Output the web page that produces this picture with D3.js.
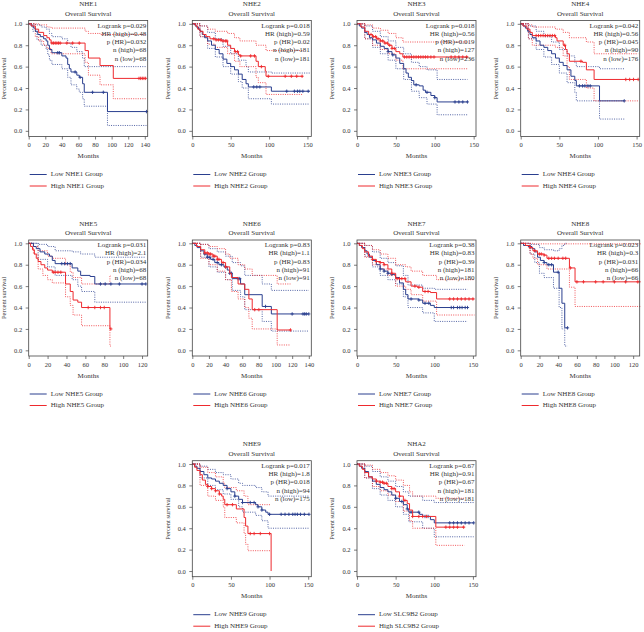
<!DOCTYPE html>
<html><head><meta charset="utf-8">
<script src="https://cdn.jsdelivr.net/npm/d3@7"></script>
<style>
body{margin:0;background:#fff}
svg{display:block}
text{font-family:"Liberation Serif","DejaVu Serif",serif;fill:#333}
</style>
</head><body>
<svg id="c" width="644" height="632"></svg>
<script>
const genes=["NHE1","NHE2","NHE3","NHE4","NHE5","NHE6","NHE7","NHE8","NHE9","NHA2"];
const legendNames=["NHE1","NHE2","NHE3","NHE4","NHE5","NHE6","NHE7","NHE8","NHE9","SLC9B2"];
const logrankP=["0.029","0.018","0.018","0.042","0.031","0.83","0.38","0.023","0.017","0.67"];
const hrHigh=["0.48","0.59","0.56","0.56","2.1","1.1","0.83","0.3","1.8","0.91"];
const pHR=["0.032","0.02","0.019","0.045","0.034","0.83","0.39","0.031","0.018","0.67"];
const nHigh=["68","181","127","90","68","91","181","66","94","181"];
const nLow=["68","181","236","176","68","91","180","66","175","181"];
const xTicks=[[0,20,40,60,80,100,120,140],[0,50,100,150],[0,50,100,150],[0,50,100,150],
  [0,20,40,60,80,100,120],[0,20,40,60,80,100,120,140],[0,50,100,150],[0,20,40,60,80,100,120],
  [0,50,100,150],[0,50,100,150]];
const xMax=[143.5,155,153,154,126,143,154,127,154,154];
const yTicks=[0,0.2,0.4,0.6,0.8,1.0];

// Kaplan-Meier step curves [month, survival]
const lowSurv=[
 [[0,1],[3,0.98],[6,0.96],[8,0.93],[11,0.9],[14,0.88],[18,0.86],[21,0.84],[23,0.8],[25,0.76],[28,0.73],[40,0.7],[45,0.68],[47,0.62],[49,0.58],[51,0.55],[58,0.52],[61,0.5],[65,0.44],[67,0.36],[95,0.18],[142,0.18]],
 [[0,1],[3,0.99],[5,0.97],[8,0.95],[10,0.93],[13,0.9],[16,0.87],[20,0.84],[25,0.8],[30,0.76],[35,0.72],[40,0.67],[45,0.63],[50,0.6],[55,0.57],[60,0.53],[65,0.48],[70,0.44],[73,0.41],[103,0.37],[153,0.37]],
 [[0,1],[3,0.98],[6,0.96],[10,0.92],[13,0.9],[16,0.87],[20,0.85],[25,0.82],[30,0.79],[35,0.77],[40,0.74],[45,0.71],[50,0.68],[55,0.63],[60,0.58],[63,0.54],[66,0.5],[70,0.47],[73,0.43],[80,0.42],[85,0.38],[88,0.36],[95,0.33],[100,0.31],[103,0.27],[142,0.27]],
 [[0,1],[3,0.98],[6,0.96],[9,0.93],[12,0.9],[15,0.87],[20,0.84],[25,0.8],[30,0.78],[35,0.75],[40,0.72],[45,0.68],[50,0.64],[55,0.61],[60,0.57],[65,0.51],[70,0.47],[72,0.42],[102,0.28],[134,0.28]],
 [[0,1],[5,0.97],[8,0.95],[12,0.92],[17,0.9],[22,0.88],[25,0.84],[28,0.81],[46,0.77],[52,0.74],[55,0.7],[65,0.69],[70,0.62],[124,0.62]],
 [[0,1],[3,0.98],[6,0.96],[10,0.93],[14,0.9],[18,0.87],[22,0.85],[27,0.82],[32,0.8],[38,0.78],[42,0.75],[45,0.72],[48,0.67],[58,0.62],[63,0.52],[84,0.41],[95,0.34],[140,0.34]],
 [[0,1],[3,0.98],[6,0.96],[10,0.93],[13,0.9],[16,0.87],[20,0.84],[25,0.8],[30,0.76],[35,0.74],[40,0.72],[45,0.71],[50,0.68],[55,0.63],[60,0.57],[63,0.52],[66,0.48],[80,0.47],[85,0.44],[95,0.42],[100,0.4],[143,0.4]],
 [[0,1],[3,0.98],[8,0.97],[12,0.95],[15,0.92],[18,0.87],[21,0.84],[25,0.82],[28,0.8],[35,0.73],[41,0.58],[44,0.44],[47,0.21],[50,0.21]],
 [[0,1],[3,0.98],[6,0.96],[10,0.93],[15,0.9],[20,0.87],[25,0.86],[30,0.84],[35,0.82],[40,0.8],[45,0.77],[50,0.74],[55,0.7],[60,0.67],[65,0.64],[82,0.62],[85,0.6],[90,0.57],[95,0.55],[98,0.53],[151,0.53]],
 [[0,1],[3,0.98],[6,0.96],[10,0.93],[15,0.88],[20,0.84],[25,0.81],[30,0.78],[35,0.76],[40,0.74],[45,0.71],[50,0.68],[55,0.65],[60,0.62],[65,0.58],[67,0.55],[81,0.53],[85,0.51],[95,0.48],[100,0.45],[151,0.45]]
];
const highSurv=[
 [[0,1],[3,0.98],[8,0.95],[12,0.92],[18,0.89],[22,0.87],[25,0.85],[27,0.82],[68,0.75],[72,0.68],[86,0.61],[102,0.49],[141,0.49]],
 [[0,1],[4,0.98],[7,0.95],[10,0.93],[14,0.9],[18,0.88],[23,0.86],[30,0.85],[38,0.84],[46,0.8],[50,0.77],[55,0.74],[60,0.71],[62,0.7],[83,0.65],[86,0.6],[95,0.56],[96,0.51],[144,0.51]],
 [[0,1],[5,0.97],[10,0.93],[15,0.9],[20,0.88],[25,0.86],[30,0.84],[35,0.82],[40,0.8],[45,0.77],[50,0.74],[55,0.72],[59,0.69],[143,0.69]],
 [[0,1],[3,0.98],[8,0.95],[12,0.92],[15,0.89],[45,0.87],[47,0.84],[55,0.8],[58,0.76],[60,0.72],[63,0.65],[80,0.64],[85,0.57],[95,0.48],[152,0.48]],
 [[0,1],[2,0.97],[4,0.94],[6,0.9],[8,0.86],[10,0.83],[13,0.8],[17,0.77],[20,0.75],[25,0.73],[39,0.62],[44,0.55],[47,0.47],[52,0.45],[56,0.4],[86,0.2],[87,0.2]],
 [[0,1],[5,0.97],[10,0.94],[15,0.91],[20,0.9],[25,0.88],[30,0.85],[35,0.82],[40,0.78],[45,0.72],[47,0.68],[55,0.62],[63,0.57],[68,0.48],[72,0.38],[102,0.19],[118,0.19]],
 [[0,1],[3,0.98],[7,0.95],[10,0.92],[15,0.88],[20,0.85],[25,0.83],[30,0.82],[35,0.8],[40,0.76],[45,0.72],[50,0.67],[63,0.64],[70,0.6],[78,0.59],[85,0.55],[95,0.54],[103,0.48],[152,0.48]],
 [[0,1],[5,0.98],[10,0.96],[13,0.93],[18,0.9],[25,0.89],[28,0.86],[52,0.77],[58,0.64],[128,0.64]],
 [[0,1],[3,0.97],[6,0.94],[10,0.9],[13,0.85],[17,0.81],[20,0.79],[25,0.77],[30,0.75],[35,0.72],[38,0.7],[40,0.67],[42,0.62],[57,0.58],[67,0.5],[69,0.42],[72,0.35],[102,0]],
 [[0,1],[3,0.98],[7,0.95],[10,0.92],[15,0.88],[20,0.86],[25,0.84],[30,0.83],[35,0.82],[40,0.79],[45,0.77],[50,0.74],[55,0.7],[60,0.66],[65,0.63],[68,0.57],[72,0.51],[102,0.41],[139,0.41]]
];
// censoring times
const lowCensor=[
 [35,37,56,62,77,90,142],
 [80,84,88,123,133,137,140,144,151],
 [40,46,76,90,100,126,131,136,142],
 [76,80,83,87,90,134],
 [35,38,41,44,76,81,87,96,120,124],
 [15,18,21,25,30,35,40,45,47,55,57,88,120,133,135,137,140],
 [30,35,40,45,70,80,88,93,122,125,130,133,136,140,143],
 [10,25,30,33,40,50],
 [45,55,65,75,80,85,90,100,115,120,125,130,133,136,140,145,151],
 [50,58,65,70,80,88,92,120,125,130,135,140,145,151]
];
const highCensor=[
 [28,30,32,34,36,38,46,53,61,133,135,137,139,141],
 [28,31,34,37,40,43,45,56,59,63,76,81,90,99,121,129,136,143],
 [18,21,24,27,30,33,36,39,42,45,48,61,64,67,70,73,76,79,82,85,88,91,95,99,121,126,131,136,141],
 [20,23,26,29,32,35,38,41,44,57,78,136,141,146,152],
 [26,28,31,34,63,70,76,80,87],
 [15,18,20,22,25,27,30,32,37,40,75,80,118],
 [20,25,30,35,45,52,55,58,62,75,80,88,92,120,125,130,135,140,145,150],
 [10,15,20,22,25,30,33,36,40,45,48,53,60,67,80,88,100,112,125],
 [20,25,30,35,45,52,75,80,88,100],
 [25,30,33,35,38,45,48,55,62,72,80,85,90,115,120,125,130,138]
];
// 95% confidence bands (dotted)
const lowUpper=[
 [[0,1],[8,0.99],[15,0.97],[21,0.95],[25,0.91],[28,0.88],[40,0.86],[47,0.82],[51,0.78],[58,0.74],[65,0.68],[67,0.6],[95,0.6],[142,0.6]],
 [[0,1],[10,0.98],[20,0.92],[30,0.86],[40,0.79],[50,0.72],[60,0.66],[70,0.6],[73,0.55],[103,0.54],[153,0.54]],
 [[0,1],[10,0.98],[20,0.93],[30,0.88],[40,0.84],[50,0.78],[60,0.72],[70,0.64],[80,0.6],[90,0.57],[103,0.48],[142,0.48]],
 [[0,1],[10,0.98],[20,0.93],[30,0.88],[40,0.83],[50,0.76],[60,0.7],[70,0.64],[72,0.6],[102,0.58],[134,0.58]],
 [[0,1],[10,0.99],[20,0.97],[28,0.93],[46,0.92],[55,0.9],[70,0.87],[124,0.87]],
 [[0,1],[10,0.99],[20,0.95],[30,0.92],[40,0.88],[48,0.82],[58,0.79],[63,0.7],[84,0.62],[95,0.56],[140,0.56]],
 [[0,1],[10,0.98],[20,0.92],[30,0.86],[40,0.82],[50,0.79],[60,0.7],[66,0.61],[85,0.58],[100,0.57],[143,0.57]],
 [[0,1],[10,0.99],[20,0.96],[25,0.94],[35,0.93],[41,0.95],[44,0.98],[47,1.0],[50,1.0]],
 [[0,1],[10,0.98],[20,0.95],[30,0.92],[40,0.9],[50,0.86],[60,0.82],[65,0.8],[82,0.78],[90,0.74],[98,0.7],[151,0.7]],
 [[0,1],[10,0.98],[20,0.93],[30,0.88],[40,0.84],[50,0.79],[60,0.74],[67,0.7],[85,0.66],[100,0.64],[151,0.64]]
];
const lowLower=[
 [[0,1],[5,0.93],[10,0.85],[15,0.8],[21,0.76],[23,0.71],[25,0.66],[28,0.62],[40,0.58],[47,0.5],[51,0.43],[58,0.39],[61,0.36],[65,0.3],[67,0.23],[95,0.05],[142,0.05]],
 [[0,1],[10,0.88],[20,0.77],[30,0.69],[40,0.6],[50,0.53],[60,0.46],[65,0.4],[73,0.3],[103,0.25],[153,0.25]],
 [[0,1],[10,0.86],[20,0.78],[30,0.72],[40,0.66],[50,0.58],[60,0.48],[70,0.37],[80,0.31],[90,0.25],[103,0.15],[142,0.15]],
 [[0,1],[10,0.86],[20,0.76],[30,0.69],[40,0.62],[50,0.54],[60,0.45],[70,0.36],[72,0.28],[102,0.11],[134,0.11]],
 [[0,1],[10,0.85],[20,0.78],[28,0.7],[46,0.66],[52,0.6],[56,0.55],[70,0.45],[124,0.45]],
 [[0,1],[10,0.87],[20,0.78],[30,0.73],[40,0.66],[48,0.56],[58,0.5],[63,0.38],[84,0.27],[95,0.18],[140,0.18]],
 [[0,1],[10,0.88],[20,0.78],[30,0.7],[40,0.66],[50,0.62],[60,0.5],[66,0.4],[85,0.35],[100,0.27],[143,0.27]],
 [[0,1],[10,0.9],[15,0.82],[20,0.72],[25,0.68],[35,0.58],[41,0.4],[44,0.2],[47,0.04],[50,0.04]],
 [[0,1],[10,0.87],[20,0.8],[30,0.76],[40,0.72],[50,0.67],[60,0.6],[65,0.55],[82,0.52],[90,0.47],[98,0.4],[151,0.4]],
 [[0,1],[10,0.87],[20,0.77],[30,0.71],[40,0.66],[50,0.6],[60,0.53],[67,0.46],[85,0.4],[100,0.32],[151,0.32]]
];
const highUpper=[
 [[0,1],[12,0.99],[22,0.97],[27,0.96],[68,0.93],[72,0.91],[86,0.9],[141,0.9]],
 [[0,1],[10,0.98],[20,0.95],[30,0.93],[46,0.91],[55,0.87],[62,0.84],[83,0.8],[96,0.75],[144,0.75]],
 [[0,1],[10,0.99],[20,0.96],[30,0.94],[40,0.91],[50,0.87],[59,0.83],[143,0.83]],
 [[0,1],[10,0.99],[15,0.97],[45,0.95],[55,0.92],[63,0.87],[85,0.83],[95,0.72],[152,0.72]],
 [[0,1],[5,0.97],[10,0.93],[20,0.88],[25,0.86],[39,0.8],[44,0.73],[47,0.68],[56,0.62],[86,0.7],[87,0.7]],
 [[0,1],[10,0.99],[20,0.97],[30,0.95],[40,0.9],[45,0.86],[55,0.8],[63,0.76],[72,0.7],[102,0.62],[118,0.62]],
 [[0,1],[10,0.98],[20,0.94],[30,0.9],[40,0.86],[50,0.8],[63,0.78],[70,0.74],[85,0.7],[103,0.66],[152,0.66]],
 [[0,1],[13,0.995],[128,0.995]],
 [[0,1],[10,0.97],[20,0.92],[30,0.88],[40,0.82],[42,0.78],[57,0.75],[67,0.7],[72,0.62],[102,0.62]],
 [[0,1],[10,0.99],[20,0.95],[30,0.92],[40,0.89],[50,0.85],[60,0.8],[68,0.74],[72,0.7],[102,0.68],[139,0.68]]
];
const highLower=[
 [[0,1],[8,0.88],[12,0.84],[18,0.8],[22,0.77],[27,0.72],[68,0.64],[72,0.52],[86,0.43],[102,0.3],[141,0.3]],
 [[0,1],[10,0.88],[20,0.81],[30,0.78],[46,0.72],[55,0.65],[62,0.6],[83,0.5],[86,0.45],[96,0.34],[144,0.34]],
 [[0,1],[10,0.86],[20,0.8],[30,0.76],[40,0.72],[50,0.66],[59,0.58],[143,0.58]],
 [[0,1],[10,0.86],[15,0.8],[45,0.78],[55,0.7],[60,0.6],[63,0.48],[85,0.4],[95,0.28],[152,0.28]],
 [[0,1],[5,0.9],[10,0.76],[15,0.7],[20,0.66],[25,0.63],[39,0.5],[44,0.42],[47,0.33],[56,0.23],[86,0.04],[87,0.04]],
 [[0,1],[10,0.86],[20,0.8],[30,0.74],[40,0.66],[47,0.55],[55,0.48],[63,0.4],[68,0.3],[72,0.2],[102,0.05],[118,0.05]],
 [[0,1],[10,0.87],[20,0.8],[30,0.76],[40,0.7],[50,0.6],[63,0.57],[70,0.52],[85,0.46],[103,0.33],[152,0.33]],
 [[0,1],[10,0.9],[13,0.86],[18,0.8],[28,0.76],[52,0.59],[58,0.41],[128,0.41]],
 [[0,1],[10,0.8],[20,0.7],[30,0.66],[40,0.6],[42,0.5],[57,0.45],[67,0.35],[69,0.25],[72,0.19],[102,0.19]],
 [[0,1],[10,0.87],[20,0.79],[30,0.75],[40,0.71],[50,0.65],[60,0.56],[68,0.47],[72,0.4],[102,0.24],[139,0.24]]
];

const BLUE="#2a3f8f", RED="#ee2a2e", AX="#444";
const colLeft=[28.7,192.3,357,520.7], rowTop=[20.5,240,460.7];
const W=119, H=116;
const grid=[[0,0],[1,0],[2,0],[3,0],[0,1],[1,1],[2,1],[3,1],[1,2],[2,2]];
const svg=d3.select("#c");

function survAt(curve,t){let s=curve[0][1];for(const p of curve){if(p[0]<=t)s=p[1];else break;}return s;}

genes.forEach((gene,i)=>{
  const [c,r]=grid[i];
  const g=svg.append("g").attr("transform",`translate(${colLeft[c]},${rowTop[r]})`);
  const x=d3.scaleLinear().domain([0,xMax[i]]).range([0,W]);
  const y=d3.scaleLinear().domain([-0.053,1.031]).range([H,0]);
  const line=d3.line().x(d=>x(d[0])).y(d=>y(d[1])).curve(d3.curveStepAfter);

  g.append("text").attr("x",W/2).attr("y",-14.5).attr("text-anchor","middle").attr("font-size",7).text(gene);
  g.append("text").attr("x",W/2).attr("y",-5).attr("text-anchor","middle").attr("font-size",7).text("Overall Survival");

  const ya=g.append("g").call(d3.axisLeft(y).tickValues(yTicks).tickFormat(d3.format(".1f")).tickSize(3).tickPadding(3.5));
  const xa=g.append("g").attr("transform",`translate(0,${H})`).call(d3.axisBottom(x).tickValues(xTicks[i]).tickSize(3).tickPadding(3));
  [ya,xa].forEach(a=>{a.select(".domain").remove();a.selectAll("line").attr("stroke",AX).attr("stroke-width",0.7);
    a.selectAll("text").attr("font-size",6.5).attr("font-family","Liberation Serif, serif").attr("fill","#333");});
  g.append("text").attr("transform",`translate(-24,${H/2}) rotate(-90)`).attr("text-anchor","middle").attr("dominant-baseline","middle").attr("font-size",6.5).text("Percent survival");
  g.append("text").attr("x",W/2).attr("y",H+21.5).attr("text-anchor","middle").attr("font-size",7).text("Months");

  const ci=[[lowUpper[i],BLUE],[lowLower[i],BLUE],[highUpper[i],RED],[highLower[i],RED]];
  ci.forEach(([d,col])=>g.append("path").attr("d",line(d)).attr("fill","none").attr("stroke",col).attr("stroke-width",0.8).attr("stroke-dasharray","1,1.3"));

  [[lowSurv[i],lowCensor[i],BLUE],[highSurv[i],highCensor[i],RED]].forEach(([d,cens,col])=>{
    g.append("path").attr("d",line(d)).attr("fill","none").attr("stroke",col).attr("stroke-width",1);
    g.append("g").selectAll("path").data(cens).join("path")
      .attr("d",t=>{const px=x(t),py=y(survAt(d,t));return `M${px-1.6},${py}H${px+1.6}M${px},${py-1.7}V${py+1.7}`;})
      .attr("stroke",col).attr("stroke-width",0.9);
  });

  g.append("rect").attr("width",W).attr("height",H).attr("fill","none").attr("stroke",AX).attr("stroke-width",0.8);

  const stats=[`Logrank p=${logrankP[i]}`,`HR (high)=${hrHigh[i]}`,`p (HR)=${pHR[i]}`,`n (high)=${nHigh[i]}`,`n (low)=${nLow[i]}`];
  g.append("g").selectAll("text").data(stats).join("text")
    .attr("x",W-1.5).attr("y",(d,k)=>7+k*8.3).attr("text-anchor","end").attr("font-size",7).text(d=>d);

  const lg=[[`Low ${legendNames[i]} Group`,BLUE],[`High ${legendNames[i]} Group`,RED]];
  lg.forEach(([t,col],k)=>{
    const ly=H+38+k*11.5;
    g.append("line").attr("x1",1).attr("x2",18).attr("y1",ly).attr("y2",ly).attr("stroke",col).attr("stroke-width",1);
    g.append("text").attr("x",22).attr("y",ly).attr("dominant-baseline","middle").attr("font-size",7).text(t);
  });
});
</script>
</body></html>
